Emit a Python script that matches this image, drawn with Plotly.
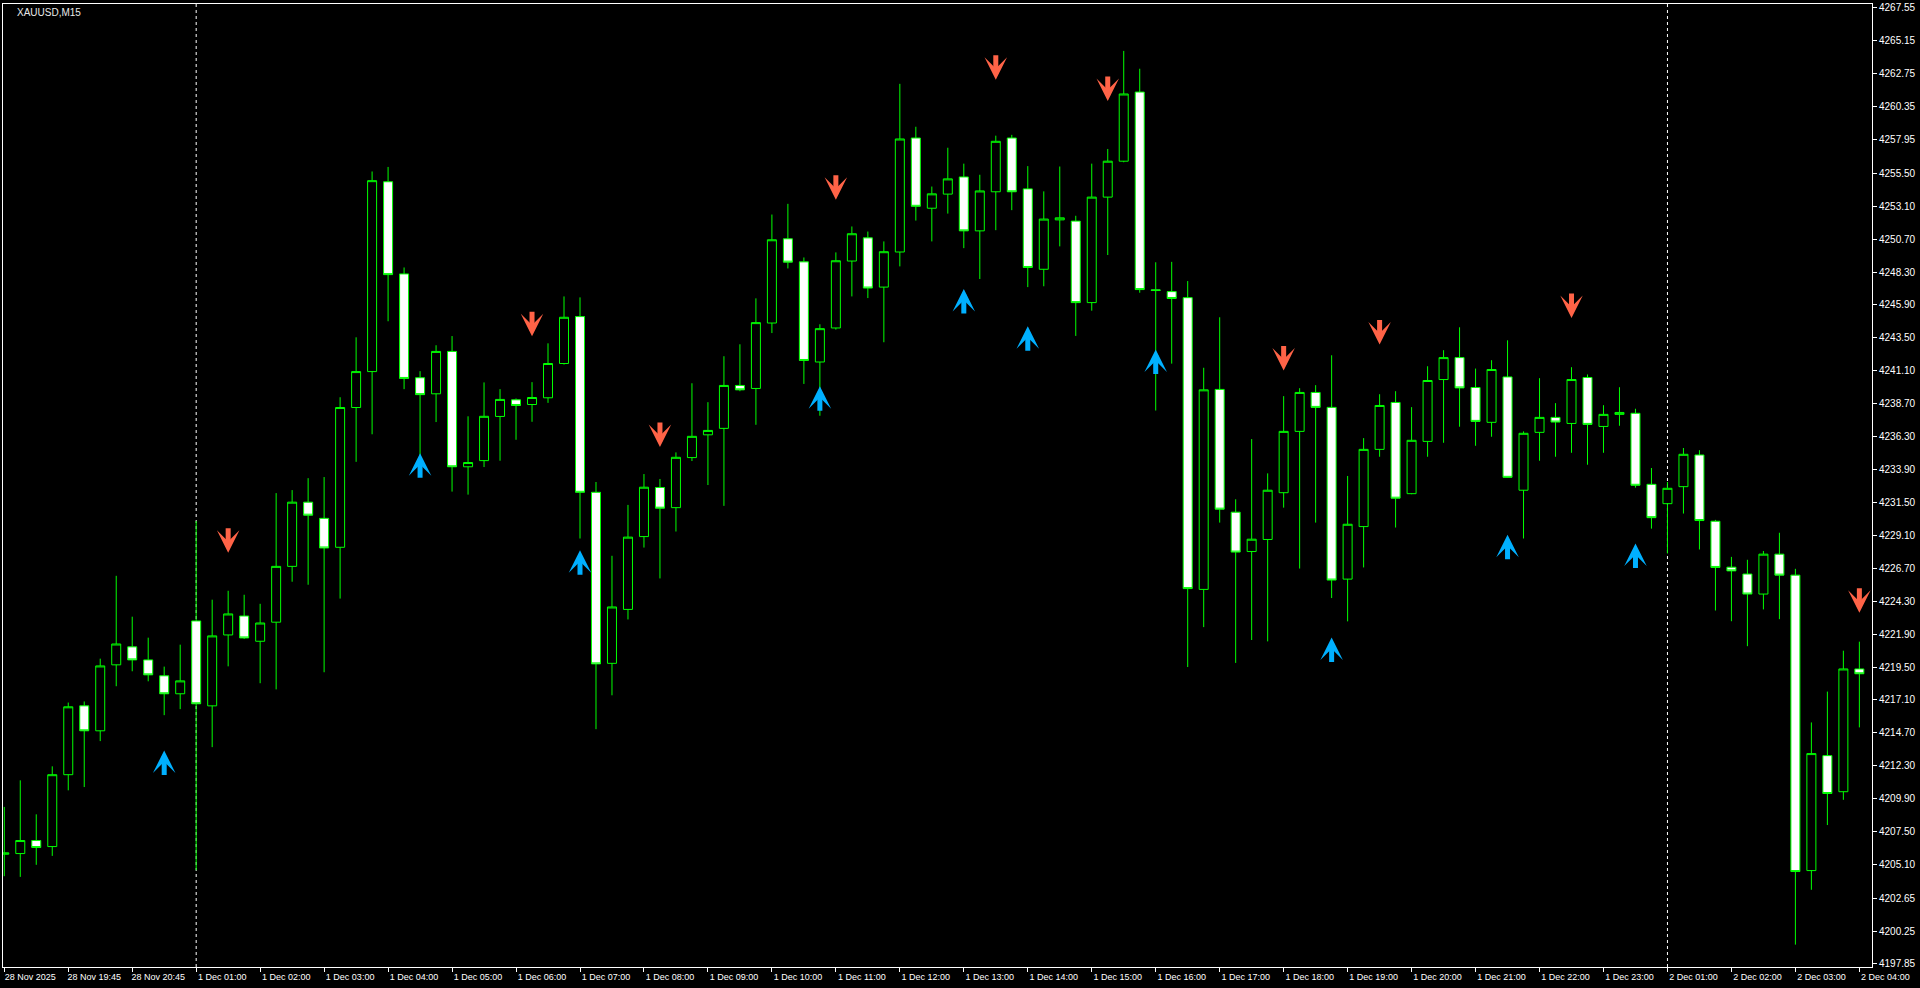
import pandas as pd
import plotly.graph_objects as go

# ---- data -------------------------------------------------------------
times = (list(pd.date_range("2025-11-28 18:45", "2025-11-28 21:30", freq="15min"))
         + list(pd.date_range("2025-12-01 01:00", "2025-12-01 23:45", freq="15min"))
         + list(pd.date_range("2025-12-02 01:00", "2025-12-02 04:00", freq="15min")))

open_ = [4205.85, 4205.90, 4206.85, 4206.41, 4211.65, 4216.67, 4214.85, 4219.66, 4220.97, 4220.02,
         4218.86, 4217.55, 4222.86, 4216.67, 4221.84, 4223.22, 4221.38, 4222.77, 4226.84, 4231.52,
         4230.34, 4228.23, 4238.42, 4241.04, 4254.88, 4248.16, 4240.59, 4239.42, 4242.51, 4234.10,
         4234.55, 4237.77, 4238.98, 4238.64, 4239.13, 4241.63, 4245.05, 4232.24, 4219.77, 4223.70,
         4229.01, 4232.59, 4231.12, 4234.77, 4236.43, 4236.90, 4240.03, 4239.81, 4244.58, 4250.72,
         4249.04, 4241.74, 4244.22, 4249.10, 4250.79, 4247.20, 4249.76, 4258.07, 4252.95, 4253.98,
         4255.23, 4251.30, 4254.15, 4258.07, 4254.36, 4248.50, 4252.10, 4252.01, 4246.07, 4253.76,
         4256.38, 4261.42, 4247.00, 4246.87, 4246.43, 4225.16, 4239.74, 4230.79, 4227.92, 4228.80,
         4232.21, 4236.68, 4239.52, 4238.43, 4225.91, 4229.74, 4235.37, 4238.79, 4232.14, 4235.95,
         4240.46, 4242.06, 4239.88, 4237.34, 4240.65, 4232.39, 4236.61, 4237.70, 4237.26, 4240.61,
         4237.04, 4237.92, 4238.00, 4232.82, 4231.41, 4232.65, 4234.96, 4230.13, 4226.78, 4226.28,
         4224.82, 4227.73, 4226.20, 4204.66, 4213.04, 4210.41, 4219.36]

high = [4209.30, 4211.24, 4208.76, 4212.26, 4216.91, 4216.99, 4220.11, 4226.15, 4223.17, 4221.64,
        4219.53, 4221.13, 4230.15, 4224.41, 4225.06, 4224.77, 4224.11, 4232.18, 4232.40, 4233.27,
        4233.35, 4239.17, 4243.54, 4255.63, 4255.96, 4248.63, 4241.07, 4242.96, 4243.63, 4237.78,
        4240.25, 4239.76, 4239.08, 4240.27, 4243.10, 4246.52, 4246.45, 4232.99, 4227.61, 4231.32,
        4233.57, 4233.21, 4235.15, 4240.19, 4238.81, 4242.16, 4243.03, 4246.38, 4252.49, 4253.27,
        4249.36, 4244.49, 4249.73, 4251.62, 4251.25, 4250.53, 4262.02, 4258.89, 4254.53, 4257.36,
        4256.20, 4255.39, 4258.24, 4258.30, 4256.02, 4254.18, 4255.99, 4252.40, 4256.20, 4257.27,
        4264.42, 4263.12, 4249.01, 4249.04, 4247.64, 4241.32, 4245.00, 4231.73, 4236.12, 4233.62,
        4239.25, 4239.83, 4240.05, 4242.23, 4233.43, 4236.19, 4239.39, 4239.61, 4238.45, 4241.43,
        4242.60, 4244.27, 4241.26, 4241.87, 4243.32, 4236.68, 4240.56, 4238.74, 4241.36, 4240.83,
        4238.59, 4239.90, 4238.33, 4234.01, 4232.99, 4235.47, 4235.31, 4230.23, 4227.53, 4227.32,
        4227.96, 4229.29, 4226.66, 4215.46, 4217.71, 4220.69, 4221.35]

low = [4204.25, 4204.20, 4205.08, 4205.73, 4210.51, 4210.75, 4214.10, 4218.10, 4219.19, 4218.46,
       4215.99, 4216.43, 4204.69, 4213.66, 4219.55, 4221.55, 4218.32, 4217.87, 4225.72, 4225.50,
       4219.12, 4224.49, 4234.46, 4236.47, 4244.71, 4239.76, 4234.50, 4237.36, 4232.29, 4232.07,
       4234.08, 4234.54, 4236.07, 4237.38, 4238.76, 4241.55, 4228.87, 4214.97, 4217.44, 4222.97,
       4228.21, 4225.96, 4229.38, 4234.52, 4232.77, 4231.25, 4239.61, 4237.16, 4243.85, 4248.56,
       4240.14, 4237.82, 4244.10, 4246.52, 4246.40, 4243.18, 4248.71, 4252.05, 4250.53, 4252.56,
       4250.04, 4247.79, 4251.35, 4252.81, 4247.20, 4247.26, 4250.17, 4243.64, 4245.48, 4249.54,
       4256.30, 4246.79, 4238.20, 4241.62, 4219.50, 4222.41, 4230.03, 4219.80, 4221.47, 4221.37,
       4231.12, 4226.68, 4230.03, 4224.53, 4222.83, 4226.76, 4234.83, 4229.67, 4232.10, 4234.83,
       4235.85, 4237.02, 4235.63, 4236.29, 4233.30, 4228.87, 4234.54, 4234.83, 4235.12, 4234.25,
       4235.12, 4237.09, 4232.58, 4229.59, 4227.78, 4230.69, 4228.07, 4223.62, 4222.84, 4221.02,
       4223.70, 4222.99, 4199.26, 4203.26, 4207.98, 4209.82, 4215.10]

close = [4205.95, 4206.85, 4206.34, 4211.65, 4216.60, 4214.85, 4219.58, 4221.18, 4220.02, 4218.93,
         4217.55, 4218.49, 4216.82, 4221.77, 4223.37, 4221.62, 4222.71, 4226.84, 4231.52, 4230.57,
         4228.18, 4238.42, 4241.04, 4254.96, 4248.11, 4240.54, 4239.36, 4242.51, 4234.10, 4234.41,
         4237.78, 4239.01, 4238.57, 4239.15, 4241.63, 4245.00, 4232.24, 4219.73, 4223.88, 4228.97,
         4232.61, 4231.08, 4234.79, 4236.32, 4236.75, 4240.03, 4239.71, 4244.61, 4250.65, 4249.02,
         4241.85, 4244.17, 4249.12, 4251.09, 4247.13, 4249.78, 4258.00, 4253.09, 4254.00, 4255.09,
         4251.30, 4254.21, 4257.83, 4254.15, 4248.63, 4252.16, 4252.25, 4246.07, 4253.76, 4256.38,
         4261.28, 4247.02, 4246.95, 4246.37, 4225.22, 4239.71, 4231.01, 4227.88, 4228.82, 4232.39,
         4236.68, 4239.52, 4238.43, 4225.84, 4229.91, 4235.37, 4238.57, 4231.81, 4236.03, 4240.39,
         4242.06, 4239.85, 4237.41, 4241.19, 4233.33, 4236.54, 4237.70, 4237.36, 4240.46, 4237.19,
         4237.92, 4238.06, 4232.75, 4230.39, 4232.53, 4235.01, 4230.18, 4226.76, 4226.51, 4224.82,
         4227.73, 4226.20, 4204.59, 4213.19, 4210.28, 4219.36, 4219.01]

price_ticks = [4267.55, 4265.15, 4262.75, 4260.35, 4257.95, 4255.50, 4253.10, 4250.70, 4248.30,
               4245.90, 4243.50, 4241.10, 4238.70, 4236.30, 4233.90, 4231.50, 4229.10, 4226.70,
               4224.30, 4221.90, 4219.50, 4217.10, 4214.70, 4212.30, 4209.90, 4207.50, 4205.10,
               4202.65, 4200.25, 4197.85]

up_idx = [10, 26, 36, 51, 60, 64, 72, 83, 94, 102]
up_price = [4213.42, 4235.08, 4228.02, 4239.98, 4247.06, 4244.35, 4242.65, 4221.66, 4229.14, 4228.50]
down_idx = [14, 33, 41, 52, 62, 69, 80, 86, 98, 116]
down_price = [4227.83, 4243.61, 4235.54, 4253.56, 4262.31, 4260.77, 4241.12, 4243.01, 4244.95, 4223.45]

symbol_label = "XAUUSD,M15"

# ---- derived ----------------------------------------------------------
n = len(times)
xs = list(range(n))

tick_idx = list(range(0, n, 4))
tick_text = []
for k in tick_idx:
    t = times[k]
    if k == 0:
        tick_text.append(f"{t.day} {t.strftime('%b %Y')}")
    else:
        tick_text.append(f"{t.day} {t.strftime('%b %H:%M')}")

sep_idx = [k for k in range(1, n) if times[k].date() != times[k - 1].date()]

FONT = "Liberation Sans, Arial, sans-serif"
GREEN = "#00FF00"

fig = go.Figure()
fig.add_trace(go.Candlestick(
    x=xs, open=open_, high=high, low=low, close=close,
    increasing=dict(line=dict(color=GREEN, width=1), fillcolor="#000000"),
    decreasing=dict(line=dict(color=GREEN, width=1), fillcolor="#FFFFFF"),
    whiskerwidth=0, showlegend=False, hoverinfo="skip",
))

shapes = []
for d in sep_idx:
    shapes.append(dict(type="line", xref="x", yref="paper", x0=d, x1=d, y0=0, y1=1,
                       line=dict(color="#FFFFFF", width=1, dash="3px,3px"), layer="below"))

annotations = []
for xi, yi in zip(up_idx, up_price):
    annotations.append(dict(x=xi, y=yi, xref="x", yref="y", text="", showarrow=True,
                            arrowhead=3, arrowsize=0.75, arrowwidth=5, arrowcolor="#00B0FF",
                            ax=0, ay=26))
for xi, yi in zip(down_idx, down_price):
    annotations.append(dict(x=xi, y=yi, xref="x", yref="y", text="", showarrow=True,
                            arrowhead=3, arrowsize=0.75, arrowwidth=5, arrowcolor="#FF6347",
                            ax=0, ay=-26))
annotations.append(dict(text=symbol_label, xref="paper", yref="paper", x=0.0064, y=0.991,
                        xanchor="left", yanchor="middle", showarrow=False,
                        font=dict(family=FONT, size=10, color="#E8E8E8")))

fig.update_layout(
    width=1920, height=988,
    margin=dict(l=2, r=48, t=2, b=21, pad=0),
    paper_bgcolor="#000000", plot_bgcolor="#000000",
    boxgap=0.4375, boxgroupgap=0,
    showlegend=False,
    shapes=shapes, annotations=annotations,
    font=dict(family=FONT, size=10, color="#FFFFFF"),
    xaxis=dict(
        type="linear", range=[-0.08, 116.79], rangeslider=dict(visible=False),
        showgrid=False, zeroline=False, showline=True, linecolor="#FFFFFF", linewidth=1,
        mirror=True, ticks="outside", ticklen=4, tickcolor="#FFFFFF",
        tickmode="array", tickvals=tick_idx, ticktext=tick_text,
        tickfont=dict(family=FONT, size=9, color="#FFFFFF"), ticklabelshift=26,
        ticklabelstandoff=-3,
    ),
    yaxis=dict(
        side="right", range=[4197.63, 4267.84],
        showgrid=False, zeroline=False, showline=True, linecolor="#FFFFFF", linewidth=1,
        mirror=True, ticks="outside", ticklen=4, tickcolor="#FFFFFF",
        tickmode="array", tickvals=price_ticks, ticktext=[f"{v:.2f}" for v in price_ticks],
        tickfont=dict(family=FONT, size=10, color="#FFFFFF"),
    ),
)

fig.write_html("out.html", config={"displayModeBar": False},
               post_script="document.body.style.margin='0';document.body.style.overflow='hidden';")
